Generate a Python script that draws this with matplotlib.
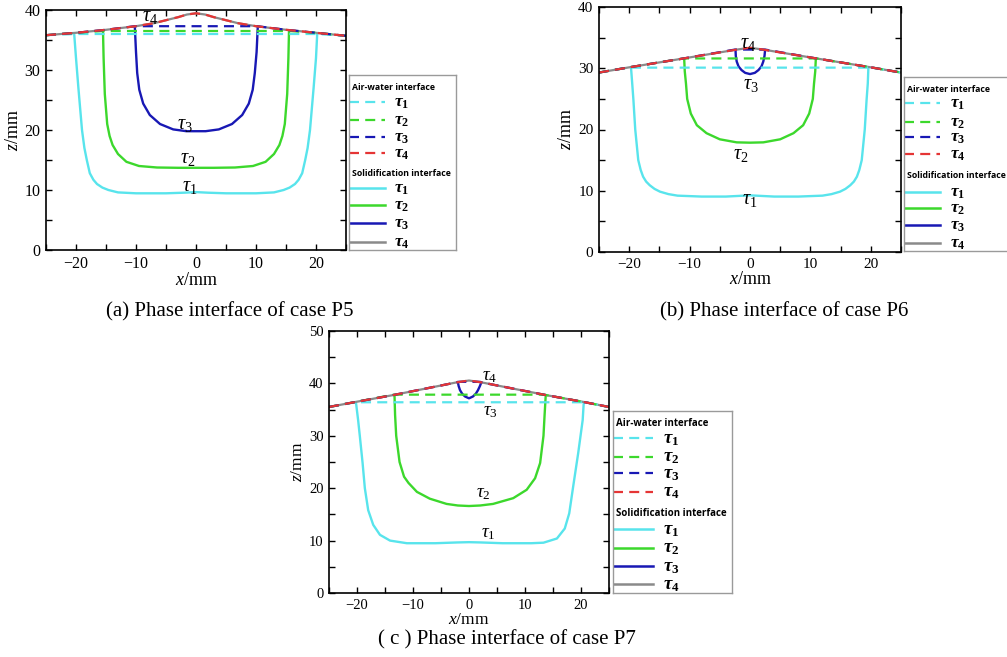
import matplotlib
matplotlib.use('Agg')
import matplotlib.pyplot as plt
from matplotlib.ticker import MultipleLocator

plt.rcParams['mathtext.fontset'] = 'custom'
plt.rcParams['mathtext.it'] = 'Liberation Serif:italic'
plt.rcParams['mathtext.rm'] = 'Liberation Serif'
plt.rcParams['mathtext.bf'] = 'Liberation Serif:bold'
plt.rcParams['mathtext.bfit'] = 'Liberation Serif:bold:italic'
plt.rcParams['font.family'] = 'Liberation Serif'
plt.rcParams['axes.unicode_minus'] = True

# ---------------- data: case P5 ----------------
surf_x_a = [-25, -20, -15, -10, -7, -5, -3, -1.5, 0, 1.5, 3, 5, 7, 10, 15, 20, 25]
surf_z_a = [35.8, 36.2, 36.7, 37.3, 37.8, 38.3, 38.8, 39.25, 39.45, 39.25, 38.8, 38.3, 37.8, 37.3, 36.7, 36.2, 35.7]
level_a = [36.0, 36.5, 37.3]
level_half_a = [20.2, 15.5, 10.2]
s1_x_a = [-20.3, -20.0, -19.6, -19.0, -18.6, -18.2, -17.7, -17.1, -16.5, -15.6, -14.6, -13.0, -10, -5, -2, 0,
          2, 5, 10, 13.0, 14.6, 15.6, 16.5, 17.1, 17.7, 18.2, 18.6, 19.0, 19.6, 20.0, 20.2]
s1_z_a = [36.0, 32.0, 27.0, 20.0, 17.0, 15.0, 12.8, 11.7, 11.0, 10.4, 10.0, 9.6, 9.45, 9.45, 9.55, 9.65,
          9.55, 9.45, 9.45, 9.6, 10.0, 10.4, 11.0, 11.7, 12.8, 15.0, 17.0, 20.0, 27.0, 32.0, 36.0]
s2_x_a = [-15.5, -15.4, -15.2, -14.8, -14.4, -13.9, -13.0, -11.6, -9.5, -6.5, -3, 0, 3, 6.5, 9.5, 11.6, 13.0,
          13.9, 14.4, 14.8, 15.2, 15.4, 15.5]
s2_z_a = [36.5, 32, 26, 21, 19, 17.5, 16.0, 14.7, 14.0, 13.75, 13.7, 13.7, 13.7, 13.75, 14.0, 14.7, 16.0,
          17.5, 19, 21, 26, 32, 36.5]
s3_x_a = [-10.2, -10.0, -9.8, -9.45, -8.8, -7.7, -6.0, -3.8, -1.6, 0, 1.6, 3.8, 6.0, 7.7, 8.8, 9.45, 9.8, 10.1, 10.3]
s3_z_a = [37.3, 33, 29.5, 26.7, 24.4, 22.5, 21.0, 20.1, 19.8, 19.8, 19.8, 20.1, 21.0, 22.5, 24.4, 26.7, 29.5, 33, 37.3]

# ---------------- data: case P6 ----------------
surf_x_b = [-25, -20, -11, -2.5, 0, 2.5, 11, 20, 25]
surf_z_b = [29.3, 30.15, 31.6, 33.0, 33.35, 33.0, 31.6, 30.15, 29.3]
level_b = [30.1, 31.6, 33.05]
level_half_b = [19.7, 10.9, 2.5]
s1_x_b = [-19.7, -19.5, -19.3, -19.0, -18.5, -18.1, -17.7, -17.2, -16.6, -15.8, -14.9, -13.5, -12.0, -8, -4, -1,
          0, 1, 4, 8, 12.0, 13.5, 14.9, 15.8, 16.6, 17.2, 17.7, 18.1, 18.5, 19.0, 19.3, 19.5, 19.6]
s1_z_b = [30.1, 27.5, 24.8, 20.0, 15.0, 13.4, 12.3, 11.5, 10.9, 10.3, 9.85, 9.45, 9.2, 9.05, 9.05, 9.2,
          9.25, 9.2, 9.05, 9.05, 9.2, 9.45, 9.85, 10.3, 10.9, 11.5, 12.3, 13.4, 15.0, 20.0, 24.8, 27.5, 30.1]
s2_x_b = [-10.9, -10.8, -10.6, -10.4, -9.8, -8.8, -7.2, -5.0, -2.2, 0, 2.2, 5.0, 7.2, 8.8, 9.8, 10.4, 10.6, 10.8, 10.9]
s2_z_b = [31.6, 29.5, 27.5, 25.0, 22.6, 20.7, 19.4, 18.4, 17.9, 17.85, 17.9, 18.4, 19.4, 20.7, 22.6, 25.0, 27.5, 29.5, 31.6]
s3_x_b = [-2.4, -2.35, -2.2, -1.9, -1.4, -0.8, 0, 0.8, 1.4, 1.9, 2.2, 2.4, 2.5]
s3_z_b = [33.0, 32.0, 31.1, 30.3, 29.7, 29.25, 29.05, 29.25, 29.7, 30.3, 31.1, 32.0, 33.0]

# ---------------- data: case P7 ----------------
surf_x_c = [-25, -20.3, -13.4, -2.2, 0, 2.2, 13.6, 20.5, 25]
surf_z_c = [35.5, 36.45, 37.8, 40.2, 40.55, 40.2, 37.8, 36.45, 35.5]
level_c = [36.4, 37.85, 40.3]
level_half_c = [20.3, 13.5, 2.0]
s1_x_c = [-20.2, -19.8, -19.5, -19.0, -18.6, -18.0, -17.1, -15.9, -14.1, -11.1, -6, -2, 0, 2, 6, 11.1, 13.3,
          15.7, 17.1, 17.9, 18.6, 19.5, 20.3, 20.5]
s1_z_c = [36.5, 33.0, 30.0, 24.8, 20.0, 15.8, 13.0, 11.1, 10.0, 9.5, 9.5, 9.65, 9.7, 9.65, 9.5, 9.5, 9.6,
          10.4, 12.3, 15.2, 20.3, 26.7, 33.0, 36.5]
s2_x_c = [-13.3, -13.2, -13.0, -12.4, -11.6, -10.8, -9.3, -7.0, -4.0, -2, 0, 2, 4.3, 7.9, 10.3, 11.8, 12.7,
          13.3, 13.5, 13.7]
s2_z_c = [37.7, 34.0, 30.0, 25.0, 22.2, 21.0, 19.3, 18.0, 17.0, 16.7, 16.6, 16.7, 17.0, 18.1, 19.7, 21.9, 24.8,
          30.0, 34.0, 37.7]
s3_x_c = [-2.0, -1.85, -1.6, -1.2, -0.7, 0, 0.7, 1.2, 1.6, 1.95, 2.2]
s3_z_c = [40.3, 39.5, 38.7, 38.0, 37.5, 37.15, 37.5, 38.0, 38.7, 39.5, 40.2]

tau_labels = [r'$\tau_1$', r'$\tau_2$', r'$\tau_3$', r'$\tau_4$']
captions = ['(a) Phase interface of case P5', '(b) Phase interface of case P6', '( c ) Phase interface of case P7']
heading_aw = 'Air-water interface'
heading_sol = 'Solidification interface'

COL = ['#58E4EC', '#3CD82C', '#1818B4', '#E53535']
GREY = '#8A8A8A'
DASH = (0, (4.5, 2.8))

W, H = 1007, 657
fig = plt.figure(figsize=(W / 100, H / 100), dpi=100)


def fax(l, t, r, b):
    return fig.add_axes([l / W, 1 - b / H, (r - l) / W, (b - t) / H])


def aw_line(sx, sz, half, level):
    xs = [x for x in sx if x < -half] + [-half, half] + [x for x in sx if x > half]
    zs = [z for x, z in zip(sx, sz) if x < -half] + [level, level] + [z for x, z in zip(sx, sz) if x > half]
    return xs, zs


def panel(rect, sx, sz, sols, levels, halves, ymax, lab_pos, tick_fs, lab_fs, tau_fs):
    ax = fax(*rect)
    for (x, z), c in zip(sols, COL[:3]):
        ax.plot(x, z, color=c, lw=1.7, solid_capstyle='butt')
    ax.plot(sx, sz, color=GREY, lw=1.6)
    for lv, hf, c in zip(levels, halves, COL[:3]):
        x, z = aw_line(sx, sz, hf, lv)
        ax.plot(x, z, color=c, lw=1.6, linestyle=DASH)
    ax.plot(sx, sz, color=COL[3], lw=1.6, linestyle=DASH)
    ax.set_xlim(-25, 25)
    ax.set_ylim(0, ymax)
    ax.xaxis.set_major_locator(MultipleLocator(10))
    ax.xaxis.set_minor_locator(MultipleLocator(5))
    ax.yaxis.set_major_locator(MultipleLocator(10))
    ax.yaxis.set_minor_locator(MultipleLocator(5))
    ax.tick_params(which='both', direction='in', top=True, right=True, length=4, width=1,
                   labelsize=tick_fs, pad=4)
    for sp in ax.spines.values():
        sp.set_linewidth(1.2)
    ax.set_xlabel(r'$x$/mm', fontsize=lab_fs, labelpad=0)
    ax.set_ylabel(r'$z$/mm', fontsize=lab_fs, labelpad=2)
    for (lx, ly), t in zip(lab_pos, tau_labels):
        ax.text(lx, ly, t, fontsize=tau_fs, ha='center', va='center')
    return ax


def legend(rect, rows, line_w, lab_x, head_x, head_fs, lab_fs):
    l, t, r, b = rect
    lax = fax(l, t, r, b)
    lax.set_xlim(0, r - l)
    lax.set_ylim(b - t, 0)
    lax.set_xticks([])
    lax.set_yticks([])
    for sp in lax.spines.values():
        sp.set_color('#9A9A9A')
        sp.set_linewidth(1.0)
    lax.text(head_x, rows[0], heading_aw, fontsize=head_fs, fontweight='bold',
             family='Open Sans', va='center', ha='left')
    for i in range(4):
        y = rows[1 + i]
        lax.plot([0, line_w], [y, y], color=COL[i], lw=1.6, linestyle=DASH)
        lax.text(lab_x, y + 1, r'$\mathbfit{\tau}_\mathbf{%d}$' % (i + 1), fontsize=lab_fs,
                 va='center', ha='left')
    lax.text(head_x, rows[5], heading_sol, fontsize=head_fs, fontweight='bold',
             family='Open Sans', va='center', ha='left')
    for i in range(4):
        y = rows[6 + i]
        c = COL[i] if i < 3 else GREY
        lax.plot([0, line_w], [y, y], color=c, lw=1.8)
        lax.text(lab_x, y + 1, r'$\mathbfit{\tau}_\mathbf{%d}$' % (i + 1), fontsize=lab_fs,
                 va='center', ha='left')
    return lax


# panel (a)
panel((46, 10, 346, 250), surf_x_a, surf_z_a,
      [(s1_x_a, s1_z_a), (s2_x_a, s2_z_a), (s3_x_a, s3_z_a)], level_a, level_half_a, 40,
      [(-1.0, 10.6), (-1.3, 15.3), (-1.8, 20.9), (-7.7, 39.0)], 11.5, 13, 14.5)
legend((349, 75, 456, 250), [13, 26.7, 45, 61.7, 78.3, 98.3, 113.3, 130, 148.3, 166.7], 36, 45, 3, 6.3, 12.5)

# panel (b)
panel((599, 7, 901, 252), surf_x_b, surf_z_b,
      [(s1_x_b, s1_z_b), (s2_x_b, s2_z_b), (s3_x_b, s3_z_b)], level_b, level_half_b, 40,
      [(0.0, 8.6), (-1.6, 15.9), (0.1, 27.4), (-0.3, 34.0)], 11, 13, 14.5)
legend((904, 77, 1011, 251), [13, 26.3, 44.7, 59.7, 77, 98, 114.7, 131.3, 148, 165.7], 36, 46, 2.7, 6.3, 12.5)

# panel (c)
panel((329, 331, 609, 593), surf_x_c, surf_z_c,
      [(s1_x_c, s1_z_c), (s2_x_c, s2_z_c), (s3_x_c, s3_z_c)], level_c, level_half_c, 50,
      [(3.4, 11.3), (2.6, 18.9), (3.9, 34.7), (3.6, 41.4)], 10.5, 12.5, 13.5)
legend((613, 411, 732, 593), [13, 27.3, 45.7, 62.3, 80.7, 102.3, 118.3, 136.7, 155, 173.3], 40, 50, 3, 7, 13.5)

# captions
fig.text(230 / W, 1 - 312 / H, captions[0], fontsize=15, ha='center', va='center')
fig.text(784 / W, 1 - 312 / H, captions[1], fontsize=15, ha='center', va='center')
fig.text(507 / W, 1 - 640 / H, captions[2], fontsize=15, ha='center', va='center')

fig.savefig('out.png', dpi=100)
